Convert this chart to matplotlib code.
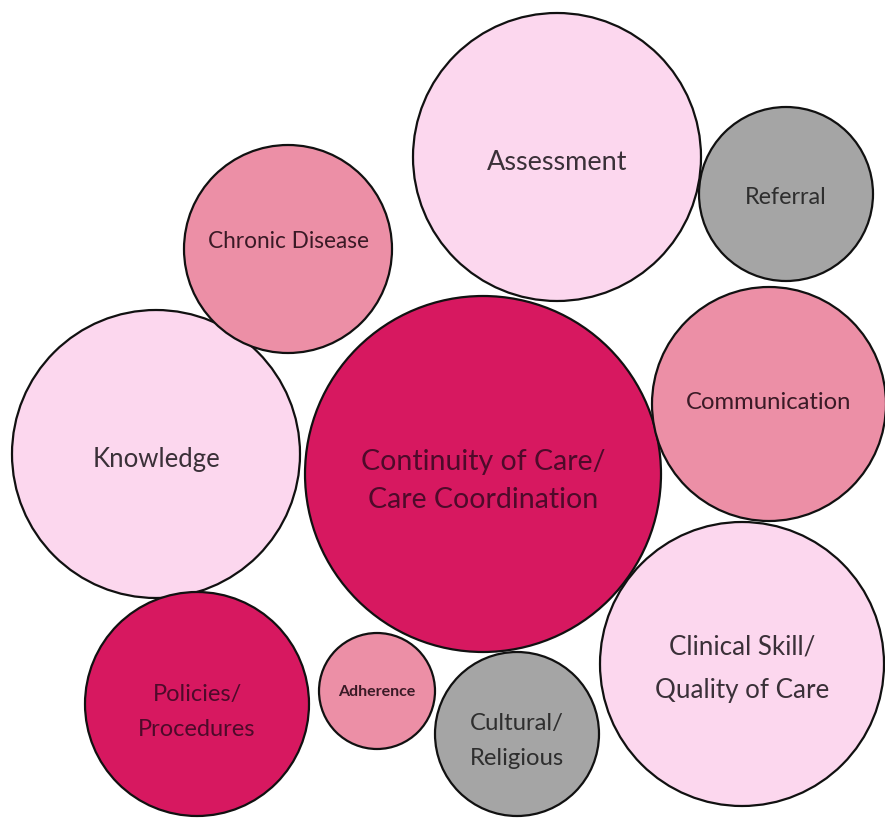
import matplotlib
matplotlib.use("Agg")
import matplotlib.pyplot as plt
from matplotlib.patches import Circle

# bubble layout (pixel space, y grows downward)
labels = ["Continuity of Care/\nCare Coordination", "Knowledge", "Chronic Disease",
          "Assessment", "Referral", "Communication", "Clinical Skill/\nQuality of Care",
          "Policies/\nProcedures", "Adherence", "Cultural/\nReligious"]
cx = [483, 156, 288, 557, 786, 769, 742, 197, 377, 517]
cy = [475, 455, 250, 158, 195, 405, 665, 705, 692, 735]
radius = [178, 144, 104, 144, 87, 117, 142, 112, 58, 82]
group = ["dark", "light", "mid", "light", "grey", "mid", "light", "dark", "mid", "grey"]

# label styling
font_sizes = [20.5, 18.5, 16.3, 19.5, 16.8, 17.2, 18.7, 17, 11.5, 17.2]
label_dy = [6, 5, -8, 4, 3, -2, 4, 7, 0, 6]
line_sp = [1.6, 1.9, 1.9, 1.9, 1.9, 1.9, 1.95, 1.88, 1.9, 1.88]

fills = {"dark": "#D71860", "mid": "#EC8FA6", "light": "#FCD7EE", "grey": "#A5A5A5"}
text_cols = {"dark": "#4E0A2A", "mid": "#3A1A26", "light": "#3A3038", "grey": "#2E2E2E"}

fig = plt.figure(figsize=(8.85, 8.2), dpi=100)
ax = fig.add_axes([0, 0, 1, 1])
ax.set_xlim(0, 885)
ax.set_ylim(820, 0)
ax.set_aspect("equal")
ax.axis("off")

for i, name in enumerate(labels):
    ax.add_patch(Circle((cx[i], cy[i]), radius[i], facecolor=fills[group[i]],
                        edgecolor="#111111", linewidth=1.6))
    weight = "bold" if name == "Adherence" else "normal"
    ax.text(cx[i], cy[i] + label_dy[i], name, ha="center", va="center",
            fontsize=font_sizes[i], family="Lato", color=text_cols[group[i]],
            fontweight=weight, linespacing=line_sp[i])

fig.savefig("out.png", dpi=100, facecolor="white")
